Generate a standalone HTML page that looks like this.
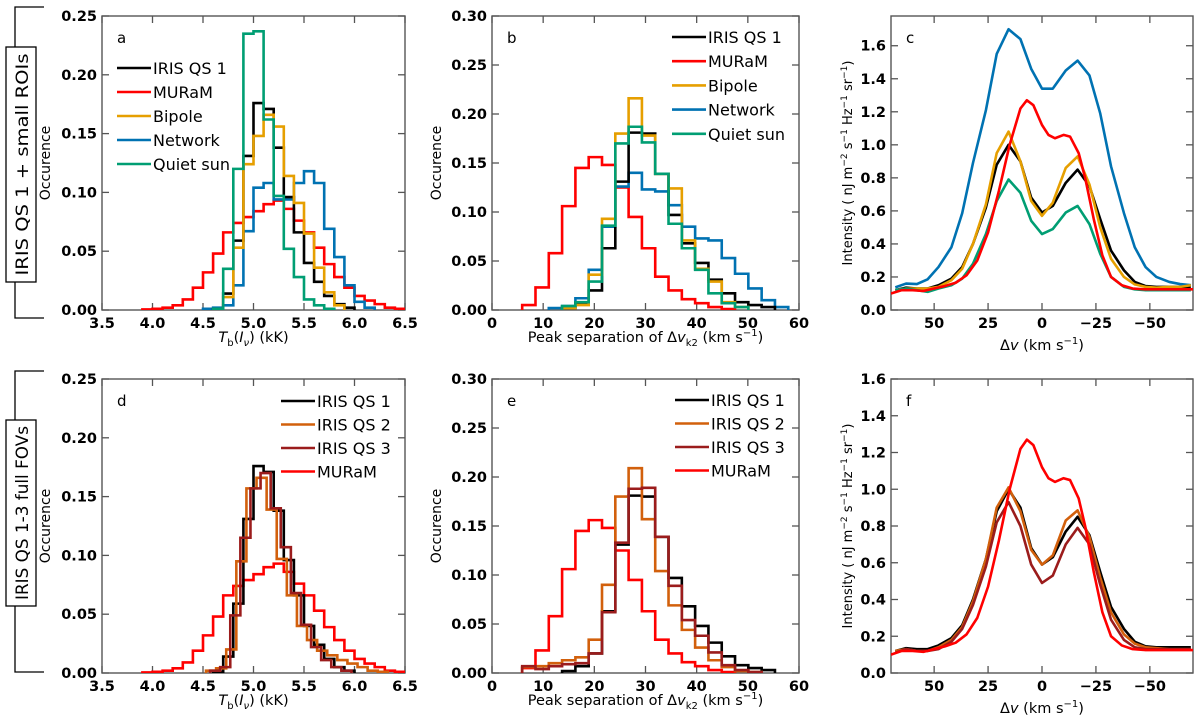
<!DOCTYPE html>
<html><head><meta charset="utf-8">
<style>
html,body{margin:0;padding:0;background:#fff;}
svg{display:block;font-family:"DejaVu Sans","Liberation Sans",sans-serif;}
</style></head>
<body>
<svg id="fig" width="1200" height="724" viewBox="0 0 1200 724" xmlns="http://www.w3.org/2000/svg">
  <g>
    <path d="M44,7 H15 V47 M15,282 V318 H44" fill="none" stroke="#000" stroke-width="1.3"/>
    <rect x="6" y="47" width="30" height="235" fill="#fff" stroke="#000" stroke-width="1.3"/>
    <text transform="translate(28,164.5) rotate(-90)" text-anchor="middle" font-size="17" textLength="222" lengthAdjust="spacingAndGlyphs">IRIS QS 1 + small ROIs</text>
  </g>
  <g>
    <path d="M44,371 H15 V420 M15,606 V672 H44" fill="none" stroke="#000" stroke-width="1.3"/>
    <rect x="6" y="420" width="30" height="186" fill="#fff" stroke="#000" stroke-width="1.3"/>
    <text transform="translate(28,513) rotate(-90)" text-anchor="middle" font-size="17" textLength="174" lengthAdjust="spacingAndGlyphs">IRIS QS 1-3 full FOVs</text>
  </g>
</svg>
<script>
// ---------- data ----------
const aBinW = 0.1;
const aQS1Start = 4.6;
const aQS1 = [0.001,0.014,0.059,0.131,0.176,0.171,0.138,0.096,0.066,0.040,0.024,0.012,0.005,0.002];
const aMURaMStart = 3.9;
const aMURaM = [0.0005,0.001,0.002,0.004,0.009,0.019,0.032,0.048,0.066,0.074,0.079,0.084,0.090,0.093,0.086,0.076,0.066,0.053,0.039,0.028,0.019,0.012,0.008,0.005,0.002,0.001];
const aBipoleStart = 4.7;
const aBipole = [0.011,0.053,0.124,0.148,0.166,0.156,0.114,0.091,0.065,0.036,0.015,0.004];
const aNetworkStart = 4.5;
const aNetwork = [0.001,0.002,0.004,0.021,0.067,0.104,0.108,0.094,0.094,0.108,0.118,0.108,0.069,0.045,0.021,0.007,0.002];
const aQuietStart = 4.6;
const aQuiet = [0.001,0.035,0.12,0.235,0.237,0.162,0.097,0.052,0.028,0.009,0.004,0.001];
const dQS2Start = 4.53;
const dQS2 = [0.002,0.004,0.020,0.095,0.157,0.166,0.139,0.097,0.066,0.040,0.028,0.019,0.015,0.011,0.008,0.005,0.002,0.001];
const dQS3Start = 4.57;
const dQS3 = [0.002,0.005,0.049,0.115,0.157,0.170,0.140,0.107,0.068,0.041,0.022,0.011,0.005,0.002];

const bBinW = 2.6;
const bMURaMStart = 5.9;
const bMURaM = [0.005,0.023,0.058,0.106,0.145,0.156,0.148,0.125,0.095,0.063,0.034,0.020,0.011,0.007,0.003,0.001];
const bQS1Start = 13.7;
const bQS1 = [0.002,0.007,0.020,0.063,0.131,0.181,0.180,0.139,0.097,0.068,0.048,0.031,0.017,0.008,0.005,0.003];
const bBipoleStart = 13.7;
const bBipole = [0.002,0.005,0.036,0.093,0.180,0.216,0.178,0.139,0.124,0.071,0.042,0.029,0.008,0.003];
const bNetworkStart = 11.1;
const bNetwork = [0.002,0.004,0.012,0.041,0.085,0.126,0.140,0.123,0.121,0.107,0.085,0.073,0.071,0.053,0.037,0.022,0.010,0.003];
const bQuietStart = 13.7;
const bQuiet = [0.004,0.008,0.029,0.086,0.170,0.187,0.171,0.139,0.088,0.063,0.041,0.017,0.007,0.003];
const eQS2Start = 5.9;
const eQS2 = [0.006,0.007,0.010,0.013,0.016,0.034,0.090,0.180,0.209,0.157,0.104,0.069,0.044,0.026,0.013,0.006,0.002,0.001];
const eQS3Start = 5.9;
const eQS3 = [0.007,0.004,0.007,0.009,0.010,0.020,0.062,0.133,0.188,0.189,0.139,0.089,0.054,0.038,0.021,0.008,0.003,0.001];

const cV = [68,63,58,53,48,42,37,32,26,21,15.5,10,5,0,-5,-11,-16.5,-22,-27,-32,-38,-43,-48,-53,-59,-64,-69];
const cNetwork = [0.137,0.16,0.157,0.186,0.26,0.38,0.586,0.89,1.21,1.55,1.70,1.64,1.46,1.34,1.34,1.45,1.51,1.42,1.19,0.87,0.586,0.38,0.26,0.20,0.17,0.157,0.15];
const cQS1 = [0.12,0.135,0.13,0.13,0.15,0.19,0.26,0.40,0.62,0.88,1.0,0.90,0.68,0.59,0.63,0.77,0.85,0.75,0.55,0.36,0.24,0.17,0.145,0.14,0.14,0.14,0.14];
const cBipole = [0.12,0.13,0.13,0.13,0.14,0.18,0.25,0.40,0.64,0.95,1.08,0.90,0.66,0.57,0.65,0.86,0.93,0.76,0.50,0.31,0.20,0.155,0.14,0.135,0.14,0.14,0.15];
const cQuiet = [0.12,0.13,0.12,0.11,0.13,0.15,0.19,0.28,0.46,0.66,0.79,0.71,0.54,0.46,0.49,0.59,0.63,0.52,0.34,0.20,0.14,0.125,0.12,0.12,0.12,0.12,0.12];
const rV = [70,65,60,55,50,45,40,35,30,25,20,15,10,7,4,0,-3,-6,-10,-13,-17,-20,-24,-28,-32,-37,-42,-48,-55,-62,-70];
const rMURaM = [0.10,0.12,0.12,0.115,0.13,0.145,0.165,0.21,0.30,0.47,0.72,1.0,1.22,1.27,1.24,1.12,1.06,1.04,1.06,1.05,0.95,0.80,0.55,0.33,0.20,0.15,0.13,0.125,0.125,0.125,0.125];
const fQS2 = [0.12,0.13,0.12,0.12,0.14,0.18,0.25,0.39,0.62,0.90,1.01,0.88,0.67,0.59,0.64,0.83,0.885,0.74,0.52,0.33,0.21,0.16,0.14,0.135,0.13,0.13,0.13];
const fQS3 = [0.11,0.13,0.12,0.12,0.13,0.17,0.24,0.37,0.58,0.82,0.93,0.80,0.59,0.49,0.53,0.70,0.79,0.70,0.48,0.29,0.18,0.14,0.13,0.13,0.13,0.13,0.13];

const tbTicks = [3.5,4.0,4.5,5.0,5.5,6.0,6.5];
const sepTicks = [0,10,20,30,40,50,60];
const dvTicks = [50,25,0,-25,-50];
const occTicks = [0,0.05,0.10,0.15,0.20,0.25];
const occTicks30 = [0,0.05,0.10,0.15,0.20,0.25,0.30];
const intTicks = [0,0.2,0.4,0.6,0.8,1.0,1.2,1.4,1.6];

// ---------- drawing ----------
const NS = "http://www.w3.org/2000/svg";
const svg = document.getElementById('fig');
const C = {black:'#000000', red:'#ff0000', orange:'#e69f00', blue:'#0072b2', green:'#009e73', qs2:'#d2600c', qs3:'#9b1c1c'};

function mk(tag, attrs, parent){
  const e = document.createElementNS(NS, tag);
  for (const k in attrs) e.setAttribute(k, attrs[k]);
  (parent||svg).appendChild(e);
  return e;
}
function scale(d0,d1,r0,r1){ return v => r0 + (v-d0)/(d1-d0)*(r1-r0); }

function panel(name, box, xd, yd, xt, yt, xfmt, yfmt){
  const g = mk('g', {});
  
  
  const X = scale(xd[0], xd[1], box.x0, box.x1);
  const Y = scale(yd[0], yd[1], box.y1, box.y0);
  const tg = mk('g', {stroke:'#555', 'stroke-width':1.3}, g);
  
  
  xt.forEach(t => {
    const x = X(t);
    mk('line', {x1:x, x2:x, y1:box.y1, y2:box.y1-7}, tg);
    mk('line', {x1:x, x2:x, y1:box.y0, y2:box.y0+7}, tg);
    const tx = mk('text', {x:x, y:box.y1+18, 'text-anchor':'middle', 'font-size':14.5, 'font-weight':'bold', stroke:'none', fill:'#000'}, g);
    
    
    tx.textContent = xfmt(t);
  });
  yt.forEach(t => {
    const y = Y(t);
    mk('line', {x1:box.x0, x2:box.x0+7, y1:y, y2:y}, tg);
    mk('line', {x1:box.x1, x2:box.x1-7, y1:y, y2:y}, tg);
    const tx = mk('text', {x:box.x0-5, y:y+5, 'text-anchor':'end', 'font-size':14.5, 'font-weight':'bold', stroke:'none', fill:'#000'}, g);
    
    
    tx.textContent = yfmt(t);
  });
  const fr = mk('rect', {x:box.x0, y:box.y0, width:box.x1-box.x0, height:box.y1-box.y0, fill:'none', stroke:'#555', 'stroke-width':1.4}, g);
  
  
  const clipId = 'clip-' + name;
  const cp = mk('clipPath', {id:clipId}, g);
  mk('rect', {x:box.x0, y:box.y0, width:box.x1-box.x0, height:box.y1-box.y0}, cp);
  const dg = mk('g', {'clip-path':'url(#'+clipId+')'}, g);
  return {g, dg, X, Y, box};
}

function hist(p, start, w, vals, color, name){
  let d = 'M' + p.X(start) + ',' + p.Y(0);
  vals.forEach((v,i) => {
    d += ' V' + p.Y(v) + ' H' + p.X(start + (i+1)*w);
  });
  d += ' V' + p.Y(0);
  const e = mk('path', {d:d, fill:'none', stroke:color, 'stroke-width':2.6, 'stroke-linejoin':'miter'}, p.dg);
  
  
}
function line(p, xs, ys, color, name){
  const d = xs.map((x,i) => (i?'L':'M') + p.X(x) + ',' + p.Y(ys[i])).join(' ');
  const e = mk('path', {d:d, fill:'none', stroke:color, 'stroke-width':2.6, 'stroke-linejoin':'round'}, p.dg);
  
  
}
function legend(p, x, y0, dy, items){
  const g = mk('g', {}, p.g);
  
  
  items.forEach((it,i) => {
    const y = y0 + i*dy;
    mk('line', {x1:x, x2:x+34, y1:y, y2:y, stroke:it[1], 'stroke-width':2.6}, g);
    const t = mk('text', {x:x+36, y:y+6, 'font-size':16, fill:'#000'}, g);
    
    
    t.textContent = it[0];
  });
}
function plabel(p, s){
  const t = mk('text', {x:p.box.x0+15, y:p.box.y0+27, 'font-size':15, fill:'#000'}, p.g);
  
  
  t.textContent = s;
}
function ytitle(p, x, html, fs){
  const t = mk('text', {transform:'translate('+x+','+((p.box.y0+p.box.y1)/2)+') rotate(-90)', 'text-anchor':'middle', 'font-size':fs||14, fill:'#000'}, p.g);
  
  
  t.innerHTML = html;
}
function xtitle(p, y, html){
  const t = mk('text', {x:(p.box.x0+p.box.x1)/2, y:y, 'text-anchor':'middle', 'font-size':14.5, fill:'#000'}, p.g);
  
  
  t.innerHTML = html;
}
const f1 = v => v.toFixed(1), f2 = v => v.toFixed(2), f0 = v => (v<0?'\u2212'+(-v):String(v));

const TOP = {y0:16, y1:310}, BOT = {y0:379, y1:673};
const colA = {x0:102, x1:405}, colB = {x0:492, x1:799}, colC = {x0:891, x1:1193};

const tbTitle = '<tspan font-style="italic">T</tspan><tspan font-size="10" dy="4">b</tspan><tspan dy="-4">(</tspan><tspan font-style="italic">I</tspan><tspan font-size="10" font-style="italic" dy="4">ν</tspan><tspan dy="-4">) (kK)</tspan>';
const sepTitle = 'Peak separation of Δ<tspan font-style="italic">v</tspan><tspan font-size="10" dy="4">k2</tspan><tspan dy="-4"> (km s</tspan><tspan font-size="10" dy="-6">−1</tspan><tspan dy="6">)</tspan>';
const dvTitle = 'Δ<tspan font-style="italic">v</tspan> (km s<tspan font-size="10" dy="-6">−1</tspan><tspan dy="6">)</tspan>';
const intTitle = 'Intensity ( nJ m<tspan font-size="9" dy="-5">−2</tspan><tspan dy="5"> s</tspan><tspan font-size="9" dy="-5">−1</tspan><tspan dy="5"> Hz</tspan><tspan font-size="9" dy="-5">−1</tspan><tspan dy="5"> sr</tspan><tspan font-size="9" dy="-5">−1</tspan><tspan dy="5">)</tspan>';

// Panel a
const pa = panel('panel-a', Object.assign({}, colA, TOP), [3.5,6.5], [0,0.25], tbTicks, occTicks, f1, f2);
hist(pa, aMURaMStart, aBinW, aMURaM, C.red, 'hist-muram');
hist(pa, aNetworkStart, aBinW, aNetwork, C.blue, 'hist-network');
hist(pa, aQS1Start, aBinW, aQS1, C.black, 'hist-iris-qs1');
hist(pa, aBipoleStart, aBinW, aBipole, C.orange, 'hist-bipole');
hist(pa, aQuietStart, aBinW, aQuiet, C.green, 'hist-quiet-sun');
legend(pa, 117, 68, 24, [['IRIS QS 1',C.black],['MURaM',C.red],['Bipole',C.orange],['Network',C.blue],['Quiet sun',C.green]]);
plabel(pa, 'a'); ytitle(pa, 50, 'Occurence'); xtitle(pa, 342, tbTitle);

// Panel b
const pb = panel('panel-b', Object.assign({}, colB, TOP), [0,60], [0,0.30], sepTicks, occTicks30, String, f2);
hist(pb, bMURaMStart, bBinW, bMURaM, C.red, 'hist-muram');
hist(pb, bNetworkStart, bBinW, bNetwork, C.blue, 'hist-network');
hist(pb, bQS1Start, bBinW, bQS1, C.black, 'hist-iris-qs1');
hist(pb, bBipoleStart, bBinW, bBipole, C.orange, 'hist-bipole');
hist(pb, bQuietStart, bBinW, bQuiet, C.green, 'hist-quiet-sun');
legend(pb, 672, 37, 24.2, [['IRIS QS 1',C.black],['MURaM',C.red],['Bipole',C.orange],['Network',C.blue],['Quiet sun',C.green]]);
plabel(pb, 'b'); ytitle(pb, 441, 'Occurence'); xtitle(pb, 342, sepTitle);

// Panel c
const pc = panel('panel-c', Object.assign({}, colC, TOP), [70,-70], [0,1.78], dvTicks, intTicks, f0, f1);
line(pc, cV, cNetwork, C.blue, 'line-network');
line(pc, cV, cQS1, C.black, 'line-iris-qs1');
line(pc, cV, cBipole, C.orange, 'line-bipole');
line(pc, cV, cQuiet, C.green, 'line-quiet-sun');
line(pc, rV, rMURaM, C.red, 'line-muram');
plabel(pc, 'c'); ytitle(pc, 852, intTitle, 13); xtitle(pc, 350, dvTitle);

// Panel d
const pd = panel('panel-d', Object.assign({}, colA, BOT), [3.5,6.5], [0,0.25], tbTicks, occTicks, f1, f2);
hist(pd, aMURaMStart, aBinW, aMURaM, C.red, 'hist-muram');
hist(pd, aQS1Start, aBinW, aQS1, C.black, 'hist-iris-qs1');
hist(pd, dQS2Start, aBinW, dQS2, C.qs2, 'hist-iris-qs2');
hist(pd, dQS3Start, aBinW, dQS3, C.qs3, 'hist-iris-qs3');
legend(pd, 281, 401, 23.5, [['IRIS QS 1',C.black],['IRIS QS 2',C.qs2],['IRIS QS 3',C.qs3],['MURaM',C.red]]);
plabel(pd, 'd'); ytitle(pd, 50, 'Occurence'); xtitle(pd, 705, tbTitle);

// Panel e
const pe = panel('panel-e', Object.assign({}, colB, BOT), [0,60], [0,0.30], sepTicks, occTicks30, String, f2);
hist(pe, bMURaMStart, bBinW, bMURaM, C.red, 'hist-muram');
hist(pe, bQS1Start, bBinW, bQS1, C.black, 'hist-iris-qs1');
hist(pe, eQS2Start, bBinW, eQS2, C.qs2, 'hist-iris-qs2');
hist(pe, eQS3Start, bBinW, eQS3, C.qs3, 'hist-iris-qs3');
legend(pe, 675, 400, 23.5, [['IRIS QS 1',C.black],['IRIS QS 2',C.qs2],['IRIS QS 3',C.qs3],['MURaM',C.red]]);
plabel(pe, 'e'); ytitle(pe, 441, 'Occurence'); xtitle(pe, 705, sepTitle);

// Panel f
const pf = panel('panel-f', Object.assign({}, colC, BOT), [70,-70], [0,1.6], dvTicks, intTicks, f0, f1);
line(pf, cV, cQS1, C.black, 'line-iris-qs1');
line(pf, cV, fQS2, C.qs2, 'line-iris-qs2');
line(pf, cV, fQS3, C.qs3, 'line-iris-qs3');
line(pf, rV, rMURaM, C.red, 'line-muram');
plabel(pf, 'f'); ytitle(pf, 852, intTitle, 13); xtitle(pf, 713, dvTitle);
</script>
</body></html>
